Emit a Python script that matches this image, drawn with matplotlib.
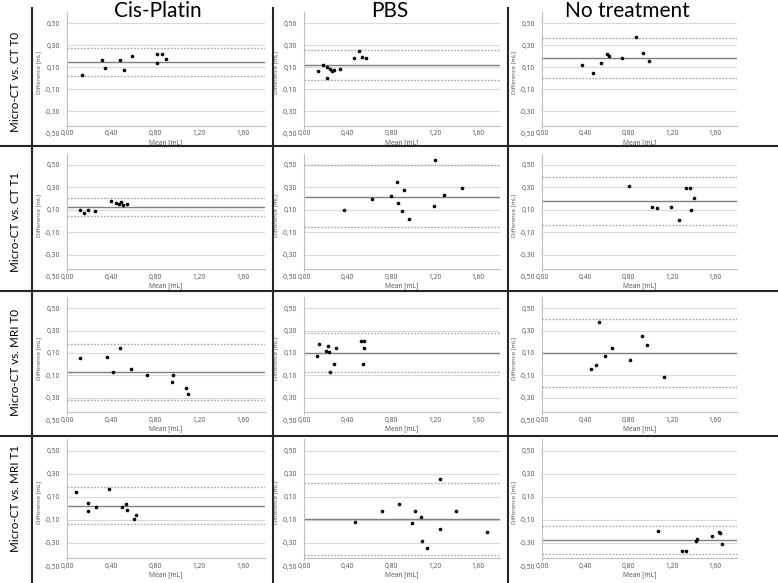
import matplotlib
matplotlib.use("Agg")
import matplotlib.pyplot as plt
from matplotlib.lines import Line2D
from matplotlib.ticker import FuncFormatter

plt.rcParams['font.family'] = ['Lato', 'DejaVu Sans']

groups = ["Cis-Platin", "PBS", "No treatment"]
comparisons = ["Micro-CT vs. CT T0", "Micro-CT vs. CT T1",
               "Micro-CT vs. MRI T0", "Micro-CT vs. MRI T1"]

# Bland-Altman data: mean [mL] and difference [mL], plus (bias, upper LoA, lower LoA)
# Micro-CT vs. CT T0
ct0_cis_x = [0.136, 0.318, 0.348, 0.485, 0.521, 0.591, 0.815, 0.815, 0.867, 0.897]
ct0_cis_d = [0.027, 0.167, 0.091, 0.167, 0.079, 0.200, 0.221, 0.142, 0.221, 0.179]
ct0_cis_lines = [0.152, 0.279, 0.024]
ct0_pbs_x = [0.130, 0.173, 0.215, 0.236, 0.215, 0.258, 0.273, 0.327, 0.460, 0.506, 0.533, 0.570]
ct0_pbs_d = [0.070, 0.118, 0.106, 0.088, -0.001, 0.070, 0.079, 0.088, 0.181, 0.252, 0.190, 0.181]
ct0_pbs_lines = [0.118, 0.255, -0.016]
ct0_none_x = [0.373, 0.468, 0.544, 0.602, 0.615, 0.737, 0.869, 0.930, 0.991]
ct0_none_d = [0.117, 0.045, 0.141, 0.225, 0.200, 0.186, 0.374, 0.231, 0.159]
ct0_none_lines = [0.186, 0.362, 0.003]

# Micro-CT vs. CT T1
ct1_cis_x = [0.121, 0.158, 0.188, 0.255, 0.397, 0.442, 0.476, 0.491, 0.512, 0.548]
ct1_cis_d = [0.094, 0.073, 0.094, 0.085, 0.175, 0.163, 0.154, 0.166, 0.145, 0.154]
ct1_cis_lines = [0.127, 0.207, 0.049]
ct1_pbs_x = [0.370, 0.621, 0.803, 0.852, 0.864, 0.915, 0.903, 0.961, 1.194, 1.206, 1.282, 1.448]
ct1_pbs_d = [0.101, 0.193, 0.223, 0.345, 0.164, 0.274, 0.092, 0.021, 0.134, 0.548, 0.235, 0.295]
ct1_pbs_lines = [0.217, 0.497, -0.057]
ct1_none_x = [0.801, 1.018, 1.061, 1.190, 1.269, 1.333, 1.364, 1.373, 1.407]
ct1_none_d = [0.310, 0.129, 0.117, 0.129, 0.007, 0.298, 0.298, 0.100, 0.206]
ct1_none_lines = [0.180, 0.390, -0.034]

# Micro-CT vs. MRI T0
mri0_cis_x = [0.121, 0.364, 0.418, 0.479, 0.582, 0.727, 0.958, 0.967, 1.079, 1.103]
mri0_cis_d = [0.052, 0.061, -0.073, 0.142, -0.040, -0.100, -0.163, -0.100, -0.213, -0.270]
mri0_cis_lines = [-0.073, 0.184, -0.321]
mri0_pbs_x = [0.121, 0.139, 0.206, 0.224, 0.230, 0.276, 0.236, 0.297, 0.521, 0.555, 0.555, 0.545]
mri0_pbs_d = [0.073, 0.184, 0.121, 0.163, 0.112, 0.001, -0.070, 0.142, 0.204, 0.204, 0.142, 0.001]
mri0_pbs_lines = [0.103, 0.279, -0.067]
mri0_none_x = [0.456, 0.502, 0.529, 0.581, 0.645, 0.810, 0.920, 0.969, 1.125]
mri0_none_d = [-0.043, -0.010, 0.375, 0.070, 0.142, 0.037, 0.252, 0.169, -0.115]
mri0_none_lines = [0.097, 0.401, -0.201]

# Micro-CT vs. MRI T1
mri1_cis_x = [0.079, 0.194, 0.188, 0.267, 0.385, 0.503, 0.536, 0.542, 0.609, 0.630]
mri1_cis_d = [0.144, 0.043, -0.023, 0.014, 0.165, 0.009, 0.035, -0.014, -0.092, -0.055]
mri1_cis_lines = [0.023, 0.182, -0.139]
mri1_pbs_x = [0.467, 0.715, 0.876, 0.994, 1.021, 1.076, 1.082, 1.130, 1.245, 1.245, 1.400, 1.685]
mri1_pbs_d = [-0.116, -0.026, 0.041, -0.125, -0.026, -0.078, -0.285, -0.343, -0.177, 0.259, -0.026, -0.203]
mri1_pbs_lines = [-0.093, 0.218, -0.401]
mri1_none_x = [1.074, 1.289, 1.329, 1.422, 1.434, 1.572, 1.637, 1.640, 1.658]
mri1_none_d = [-0.195, -0.366, -0.366, -0.279, -0.270, -0.244, -0.203, -0.218, -0.308]
mri1_none_lines = [-0.273, -0.151, -0.395]

panels = [
    [(ct0_cis_x, ct0_cis_d, ct0_cis_lines), (ct0_pbs_x, ct0_pbs_d, ct0_pbs_lines),
     (ct0_none_x, ct0_none_d, ct0_none_lines)],
    [(ct1_cis_x, ct1_cis_d, ct1_cis_lines), (ct1_pbs_x, ct1_pbs_d, ct1_pbs_lines),
     (ct1_none_x, ct1_none_d, ct1_none_lines)],
    [(mri0_cis_x, mri0_cis_d, mri0_cis_lines), (mri0_pbs_x, mri0_pbs_d, mri0_pbs_lines),
     (mri0_none_x, mri0_none_d, mri0_none_lines)],
    [(mri1_cis_x, mri1_cis_d, mri1_cis_lines), (mri1_pbs_x, mri1_pbs_d, mri1_pbs_lines),
     (mri1_none_x, mri1_none_d, mri1_none_lines)],
]

W, H = 778, 583
fig = plt.figure(figsize=(W / 100, H / 100), dpi=100)

# pixel layout of the plot areas
col_left = [67, 304, 542]
col_right = [265, 500, 737]
row_top = [12.3, 153.8, 297.1, 439.2]
row_bottom = [133.3, 277, 420, 566]

grid_c = '#d9d9d9'
small = ['Open Sans', 'DejaVu Sans']
comma = FuncFormatter(lambda v, p: f"{v:.2f}".replace('.', ','))

for r in range(4):
    for c in range(3):
        xs, ds, (bias, up, lo) = panels[r][c]
        ax = fig.add_axes([col_left[c] / W, 1 - row_bottom[r] / H,
                           (col_right[c] - col_left[c]) / W,
                           (row_bottom[r] - row_top[r]) / H])
        ax.set_xlim(0, 1.8)
        ax.set_ylim(-0.5, 0.6)
        ax.set_xticks([0, 0.4, 0.8, 1.2, 1.6])
        ax.set_yticks([-0.5, -0.3, -0.1, 0.1, 0.3, 0.5])
        ax.xaxis.set_major_formatter(comma)
        ax.yaxis.set_major_formatter(comma)
        ax.grid(axis='y', color=grid_c, lw=0.8)
        ax.yaxis.get_gridlines()[0].set_visible(False)
        ax.set_axisbelow(True)
        for s in ['top', 'right']:
            ax.spines[s].set_visible(False)
        ax.spines['bottom'].set_position(('data', -0.43))
        ax.spines['bottom'].set_color('#bfbfbf')
        ax.spines['bottom'].set_linewidth(0.8)
        ax.spines['left'].set_bounds(-0.45, 0.6)
        ax.spines['left'].set_color('#bfbfbf')
        ax.spines['left'].set_linewidth(0.8)
        ax.tick_params(length=0, labelsize=4.8, colors='#505050')
        ax.tick_params(axis='x', pad=3.5)
        ax.tick_params(axis='y', pad=5)
        for lab in ax.get_xticklabels() + ax.get_yticklabels():
            lab.set_family(small)

        ax.axhline(bias, color='#7f7f7f', lw=1.0)
        ax.axhline(up, color='#a6a6a6', lw=1.0, ls=(0, (1.2, 1.2)))
        ax.axhline(lo, color='#a6a6a6', lw=1.0, ls=(0, (1.2, 1.2)))
        ax.plot(xs, ds, 'o', color='black', ms=2.6, mec='none', clip_on=False)

        ax.set_xlabel("Mean [mL]", fontsize=4.8, color='#505050', labelpad=1,
                      family=small)
        ax.set_ylabel("Difference [mL]", fontsize=4.3, color='#505050', labelpad=2,
                      family=small)

# column titles
title_x = [158, 390, 627]
for c in range(3):
    fig.text(title_x[c] / W, 1 - 11 / H, groups[c], fontsize=15,
             ha='center', va='center')

# row labels
label_y = [82, 222, 362, 499]
for r in range(4):
    fig.text(16 / W, 1 - label_y[r] / H, comparisons[r], fontsize=8.4,
             rotation=90, ha='center', va='center')

# table separators
for y in [146, 291, 436]:
    fig.add_artist(Line2D([0, 1], [1 - y / H] * 2, color='#262626', lw=1.5))
for x in [32, 273, 508]:
    fig.add_artist(Line2D([x / W] * 2, [0, 1 - 8 / H], color='#262626', lw=1.5))

fig.savefig("out.png", dpi=100)
